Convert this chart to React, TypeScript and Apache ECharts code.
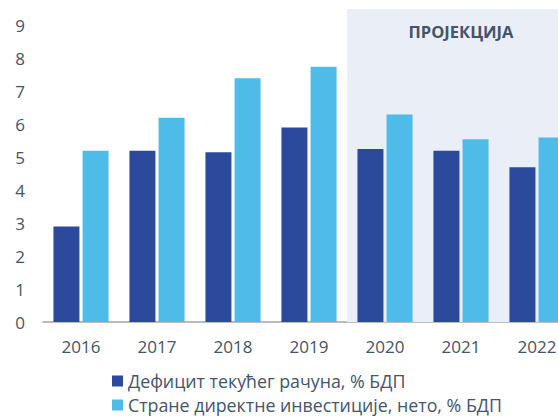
import React, { useEffect, useRef } from "react";
import * as echarts from "echarts";

const years = ["2016", "2017", "2018", "2019", "2020", "2021", "2022"];
const deficit = [2.9, 5.2, 5.15, 5.9, 5.25, 5.2, 4.7];
const fdi = [5.2, 6.2, 7.4, 7.75, 6.3, 5.55, 5.6];
const seriesNames = ["Дефицит текућег рачуна, % БДП", "Стране директне инвестиције, нето, % БДП"];
const projectionLabel = "ПРОЈЕКЦИЈА";
const projectionStart = 3.5; // boundary between 2019 and 2020 (category index)
const projectionEnd = 6.5;

const TEXT = "#44546A";
const FONT = "'Open Sans', sans-serif";

export default function App() {
  const ref = useRef<HTMLDivElement>(null);
  useEffect(() => {
    if (!ref.current) return;
    const chart = echarts.init(ref.current, undefined, { renderer: "svg" });
    chart.setOption({
      animation: false,
      textStyle: { fontFamily: FONT },
      grid: { left: 43, width: 532, top: 9, height: 313, containLabel: false, outerBoundsMode: "none" },
      legend: {
        orient: "vertical",
        left: 112,
        top: 372,
        padding: 0,
        itemWidth: 11,
        itemHeight: 11,
        itemGap: 6,
        icon: "rect",
        textStyle: { fontSize: 17.8, lineHeight: 18, color: TEXT, fontFamily: FONT, padding: [0, 0, 0, 0] },
        data: seriesNames,
      },
      xAxis: [
        {
          type: "category",
          data: years,
          axisLine: { lineStyle: { color: "#A6A6A6", width: 1.5 } },
          axisTick: { show: false },
          axisLabel: { fontSize: 17, color: TEXT, margin: 16, fontFamily: FONT },
        },
        { type: "value", min: -0.5, max: 6.5, show: false },
      ],
      yAxis: {
        type: "value",
        min: 0,
        max: 9.5,
        interval: 1,
        splitLine: { show: false },
        axisLine: { show: false },
        axisTick: { show: false },
        axisLabel: {
          fontSize: 17,
          color: TEXT,
          margin: 18,
          fontFamily: FONT,
          formatter: (v: number) => (Number.isInteger(v) ? String(v) : ""),
        },
      },
      series: [
        {
          type: "scatter",
          xAxisIndex: 1,
          data: [],
          silent: true,
          markArea: {
            silent: true,
            itemStyle: { color: "#EAEEF7" },
            label: {
              show: true,
              position: "insideTop",
              distance: 14,
              color: TEXT,
              fontWeight: "bold",
              fontSize: 16.5,
              fontFamily: FONT,
            },
            data: [[{ name: projectionLabel, xAxis: projectionStart, yAxis: 0 }, { xAxis: projectionEnd, yAxis: 9.5 }]],
          },
        },
        {
          name: seriesNames[0],
          type: "bar",
          data: deficit,
          barWidth: 26,
          barGap: "12%",
          itemStyle: { color: "#2B4A9B" },
        },
        {
          name: seriesNames[1],
          type: "bar",
          data: fdi,
          barWidth: 26,
          itemStyle: { color: "#4FBBE8" },
        },
      ],
    });
    return () => chart.dispose();
  }, []);
  return <div ref={ref} style={{ width: 558, height: 417, position: "absolute", left: 0, top: 0 }} />;
}
